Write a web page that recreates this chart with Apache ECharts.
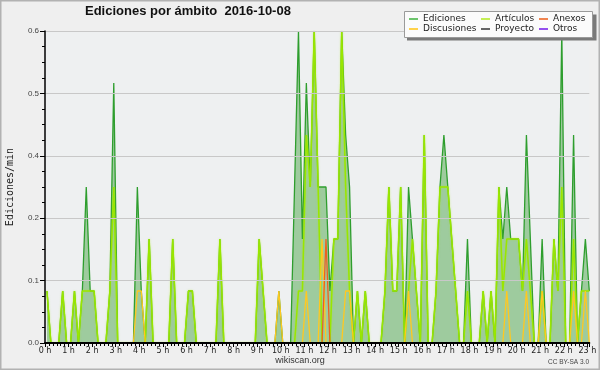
<!DOCTYPE html>
<html><head><meta charset="utf-8">
<script src="https://cdn.jsdelivr.net/npm/echarts@6/dist/echarts.min.js"></script>
<style>html,body{margin:0;padding:0;background:#efefef}#c{width:600px;height:370px}</style>
</head><body><div id="c"></div>
<script>
// 10-minute buckets, values in edits per minute
const slotMinutes = 10;
const hourTicks = [0,1,2,3,4,5,6,7,8,9,10,11,12,13,14,15,16,17,18,19,20,21,22,23];
const ediciones = [
 0.1,0,0,0,0.1,0,0,0.1,0,0.1,
 0.3,0.1,0.1,0,0,0,0.1,0.5,0,0,
 0,0,0,0.3,0.1,0,0.2,0,0,0,
 0,0,0.2,0,0,0,0.1,0.1,0,0,
 0,0,0,0,0.2,0,0,0,0,0,
 0,0,0,0,0.2,0.1,0,0,0,0.1,
 0,0,0,0.3,0.6,0.2,0.5,0.3,0.6,0.3,
 0.3,0.3,0.1,0.2,0.2,0.6,0.4,0.3,0,0.1,
 0,0.1,0,0,0,0,0.1,0.3,0.1,0.1,
 0.3,0,0.3,0.2,0.1,0,0.4,0,0,0.1,
 0.3,0.4,0.3,0.2,0.1,0,0,0.2,0,0,
 0,0.1,0,0.1,0,0.3,0.2,0.3,0.2,0.2,
 0.2,0.1,0.4,0.2,0,0,0.2,0,0,0.2,
 0.1,0.6,0,0,0.4,0,0.1,0.2,0.1
];
const articulos = [
 0.1,0,0,0,0.1,0,0,0.1,0,0.1,
 0.1,0.1,0.1,0,0,0,0.1,0.3,0,0,
 0,0,0,0,0,0,0.2,0,0,0,
 0,0,0.2,0,0,0,0.1,0.1,0,0,
 0,0,0,0,0.2,0,0,0,0,0,
 0,0,0,0,0.2,0.1,0,0,0,0,
 0,0,0,0,0.1,0.1,0.4,0.3,0.6,0.3,
 0,0,0,0.2,0.2,0.6,0.3,0.1,0,0.1,
 0,0.1,0,0,0,0,0.1,0.3,0.1,0.1,
 0.3,0,0.1,0.2,0.1,0,0.4,0,0,0.1,
 0.3,0.3,0.3,0.2,0.1,0,0,0.1,0,0,
 0,0.1,0,0.1,0,0.3,0.1,0.2,0.2,0.2,
 0.2,0.1,0.2,0.1,0,0,0.1,0,0,0.2,
 0.1,0.3,0,0,0.2,0,0.1,0.1,0.1
];
const anexos = [
 0,0,0,0,0,0,0,0,0,0,
 0,0,0,0,0,0,0,0,0,0,
 0,0,0,0,0,0,0,0,0,0,
 0,0,0,0,0,0,0,0,0,0,
 0,0,0,0,0,0,0,0,0,0,
 0,0,0,0,0,0,0,0,0,0,
 0,0,0,0,0,0,0,0,0,0,
 0,0.2,0,0,0,0,0,0,0,0,
 0,0,0,0,0,0,0,0,0,0,
 0,0,0,0,0,0,0,0,0,0,
 0,0,0,0,0,0,0,0,0,0,
 0,0,0,0,0,0,0,0,0,0,
 0,0,0,0,0,0,0,0,0,0,
 0,0,0,0,0,0,0,0,0
];
const discusiones = [
 0,0,0,0,0,0,0,0,0,0,
 0,0,0,0,0,0,0,0,0,0,
 0,0,0,0.1,0.1,0,0,0,0,0,
 0,0,0,0,0,0,0,0,0,0,
 0,0,0,0,0,0,0,0,0,0,
 0,0,0,0,0,0,0,0,0,0.1,
 0,0,0,0,0,0,0.1,0,0,0,
 0.2,0,0,0,0,0,0.1,0.1,0,0,
 0,0,0,0,0,0,0,0,0,0,
 0,0,0.1,0,0,0,0,0,0,0,
 0,0,0,0,0,0,0,0,0,0,
 0,0,0,0,0,0,0,0.1,0,0,
 0,0,0.1,0,0,0,0.1,0,0,0,
 0,0,0,0,0.1,0,0,0.1,0
];
const proyecto = [];
const otros = [];

const times = ediciones.map((_, i) => (i * slotMinutes + slotMinutes / 2) / 60);
const pair = arr => arr.map((v, i) => [times[i], v]);
const xMax = (ediciones.length * slotMinutes - slotMinutes / 2) / 60;

const chart = echarts.init(document.getElementById('c'), null, {renderer: 'canvas'});
const legendText = {fontFamily: 'DejaVu Sans', fontSize: 9, color: '#222', lineHeight: 10};
const legendCommon = {orient: 'vertical', top: 14, itemGap: 0, itemWidth: 9, itemHeight: 2, icon: 'rect',
  padding: 0, selectedMode: false, textStyle: legendText, z: 20};
const lineSeries = (name, data, color, width, z) => ({
  name, type: 'line', data: pair(data), symbol: 'none', z,
  lineStyle: {color, width}, itemStyle: {color}, animation: false
});
const ed = lineSeries('Ediciones', ediciones, '#2e9e2e', 1.3, 2);
ed.areaStyle = {color: '#9ecb9e', opacity: 1};
const art = lineSeries('Artículos', articulos, '#99e600', 1.5, 3);
art.lineStyle.shadowColor = 'rgba(170,240,0,0.5)';
art.lineStyle.shadowBlur = 2;

chart.setOption({
  backgroundColor: '#efefef',
  animation: false,
  title: {text: 'Ediciones por ámbito  2016-10-08', left: 85, top: 5, padding: 0,
    textStyle: {fontFamily: 'Liberation Sans', fontWeight: 'bold', fontSize: 13, color: '#111'}},
  grid: {left: 45, right: 10.7, top: 31, bottom: 27, show: true, backgroundColor: '#eef0f1', borderWidth: 0,
    containLabel: false, outerBoundsMode: 'none'},
  xAxis: {
    type: 'value', min: 0, max: xMax, interval: 1, z: 10,
    axisLine: {lineStyle: {color: '#000', width: 2}},
    axisTick: {length: 4, lineStyle: {color: '#000'}},
    minorTick: {show: true, splitNumber: 6, length: 3, lineStyle: {color: '#000'}},
    splitLine: {show: false},
    axisLabel: {showMaxLabel: false, margin: 4, fontFamily: 'DejaVu Sans', fontSize: 8, color: '#222',
      formatter: v => { const h = hourTicks.find(t => Math.abs(t - v) < 1e-6); return h === undefined ? '' : h + ' h'; }}
  },
  yAxis: {
    type: 'value', min: 0, max: 0.6, interval: 0.12, z: 10,
    name: 'Ediciones/min', nameLocation: 'middle', nameGap: 30, nameRotate: 90,
    nameTextStyle: {fontFamily: 'DejaVu Sans Mono', fontSize: 10, color: '#222'},
    axisLine: {show: true, lineStyle: {color: '#000', width: 1.5}},
    axisTick: {show: true, length: 5, lineStyle: {color: '#000'}},
    minorTick: {show: true, splitNumber: 4, length: 3, lineStyle: {color: '#000'}},
    splitLine: {show: true, lineStyle: {color: '#c8c8c8', width: 1}},
    axisLabel: {margin: 6, fontFamily: 'Liberation Sans', fontSize: 8, color: '#444', formatter: v => v.toFixed(1)}
  },
  legend: [
    Object.assign({left: 409, data: [{name: 'Ediciones', itemStyle: {color: '#6cc46c'}}, {name: 'Discusiones', itemStyle: {color: '#ffd24a'}}]}, legendCommon),
    Object.assign({left: 481, data: [{name: 'Artículos', itemStyle: {color: '#c4ee55'}}, {name: 'Proyecto', itemStyle: {color: '#666'}}]}, legendCommon),
    Object.assign({left: 539, data: [{name: 'Anexos', itemStyle: {color: '#f08450'}}, {name: 'Otros', itemStyle: {color: '#9450ee'}}]}, legendCommon)
  ],
  graphic: [
    {type: 'rect', z: 10, shape: {x: 407, y: 14.5, width: 189.5, height: 26}, style: {fill: '#7a7a7a'}},
    {type: 'rect', z: 11, shape: {x: 404.5, y: 11.5, width: 188, height: 26}, style: {fill: '#fbfbfb', stroke: '#9a9a9a', lineWidth: 1}},
    {type: 'rect', z: 12, shape: {x: 0.75, y: 0.75, width: 598.5, height: 368.5}, style: {fill: 'none', stroke: '#b2b2b2', lineWidth: 1.5}},
    {type: 'text', z: 12, x: 300, y: 361, style: {text: 'wikiscan.org', font: '9px "Liberation Sans"', fill: '#333', textAlign: 'center', textVerticalAlign: 'middle'}},
    {type: 'text', z: 12, x: 589, y: 362, style: {text: 'CC BY-SA 3.0', font: '6.5px "Liberation Sans"', fill: '#444', textAlign: 'right', textVerticalAlign: 'middle'}}
  ],
  series: [
    ed,
    art,
    lineSeries('Discusiones', discusiones, '#ffc820', 1.3, 3),
    lineSeries('Anexos', anexos, '#ee6020', 1.3, 3),
    lineSeries('Proyecto', proyecto, '#555555', 1.2, 3),
    lineSeries('Otros', otros, '#9944ee', 1.2, 3)
  ]
});
</script></body></html>
